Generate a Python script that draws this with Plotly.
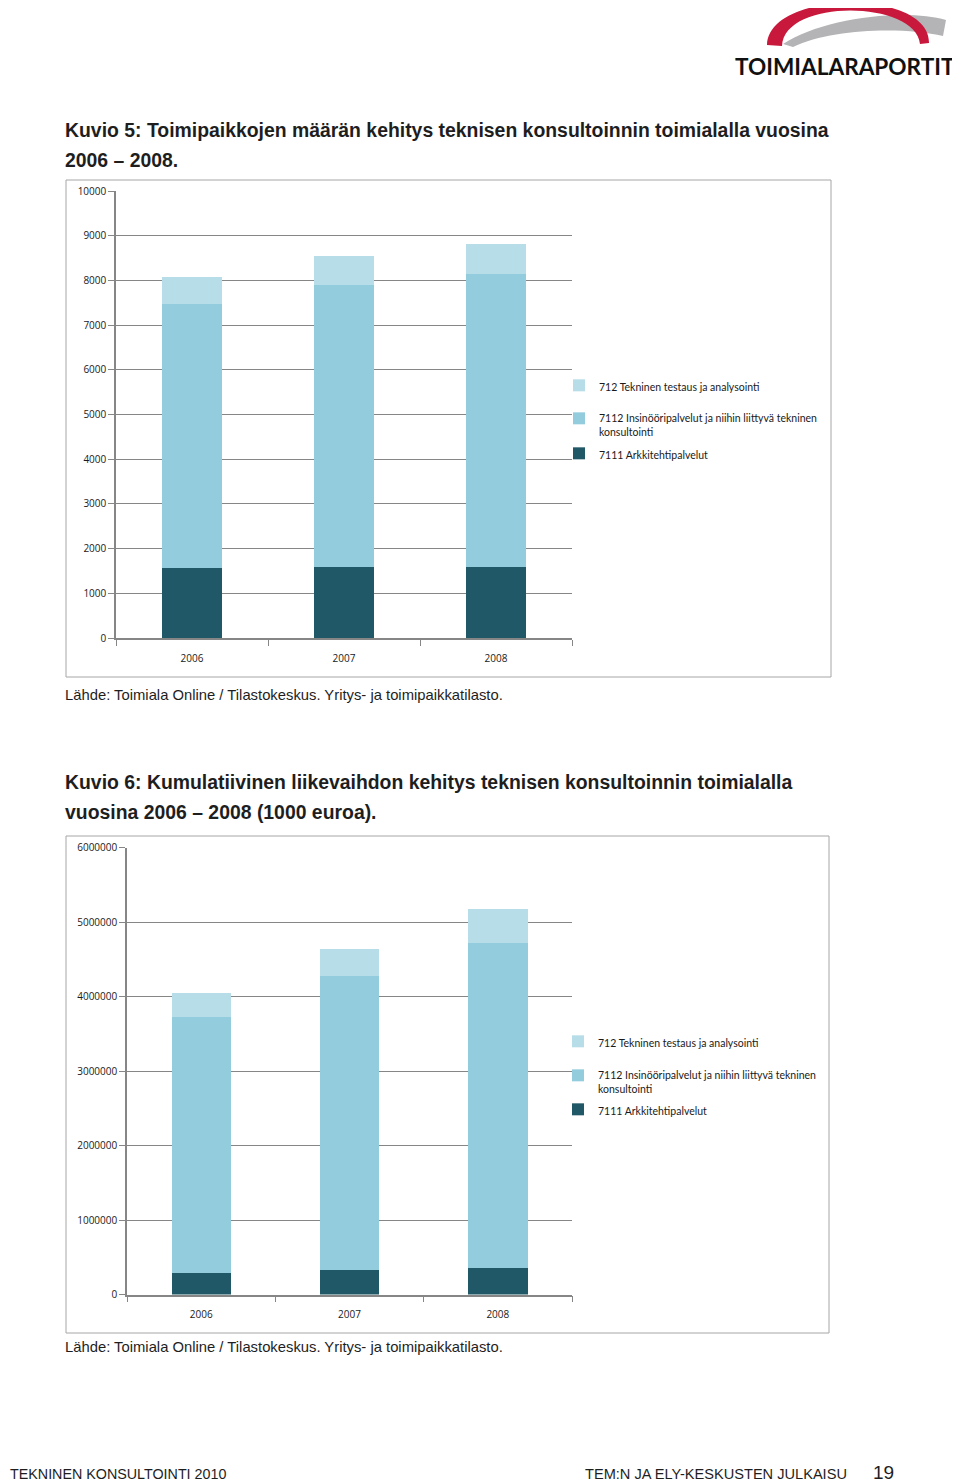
import plotly.graph_objects as go

# page offset of the plot div inside the browser page (body margin)
OFF = 8
W, H = 960 - OFF, 1483 - OFF

# ---------------- data ----------------
years = ["2006", "2007", "2008"]
series_names = [
    "7111 Arkkitehtipalvelut",
    "7112 Insinööripalvelut ja niihin liittyvä tekninen<br>konsultointi",
    "712 Tekninen testaus ja analysointi",
]
# Kuvio 5: toimipaikkojen määrä
est_7111 = [1566, 1595, 1595]
est_7112 = [5906, 6295, 6548]
est_712 = [595, 656, 671]
# Kuvio 6: liikevaihto (1000 euroa)
rev_7111 = [290000, 330000, 353000]
rev_7112 = [3430000, 3950000, 4367000]
rev_712 = [324000, 360000, 450000]

y1_ticks = [0, 1000, 2000, 3000, 4000, 5000, 6000, 7000, 8000, 9000, 10000]
y2_ticks = [0, 1000000, 2000000, 3000000, 4000000, 5000000, 6000000]

colors = ["#215867", "#93cddd", "#b7dde8"]


def fx(px):
    return (px - OFF) / W


def fy(py):
    return 1 - (py - OFF) / H


def ppath(points_cmds):
    out = []
    for tok in points_cmds:
        if isinstance(tok, str):
            out.append(tok)
        else:
            x, y = tok
            out.append(f"{fx(x):.5f},{fy(y):.5f}")
    return " ".join(out)


fig = go.Figure()

GRID = "#868686"
TICKFONT = dict(family="Open Sans, Lato, sans-serif", size=10, color="#1a1a1a")
LEGFONT = dict(family="Lato, Open Sans, sans-serif", size=10.5, color="#1a1a1a")

# legend positions (pixel top y of each entry) per chart
leg1_y = [440, 405, 372]
leg2_y = [1096, 1062, 1028]

for i in range(3):
    vals1 = [est_7111, est_7112, est_712][i]
    vals2 = [rev_7111, rev_7112, rev_712][i]
    fig.add_trace(go.Bar(
        x=years, y=vals1, name=series_names[i], marker_color=colors[i],
        marker_line_width=0, width=0.4, xaxis="x", yaxis="y",
        legend="legend" if i == 0 else f"legend{i+1}",
    ))
    fig.add_trace(go.Bar(
        x=years, y=vals2, name=series_names[i], marker_color=colors[i],
        marker_line_width=0, width=0.4, xaxis="x2", yaxis="y2",
        legend=f"legend{i+4}",
    ))

axis_common = dict(
    showline=True, linecolor=GRID, linewidth=1.5,
    ticks="outside", tickcolor=GRID, tickwidth=1.2, ticklen=6,
    tickfont=TICKFONT, zeroline=False,
)

fig.update_layout(
    width=W, height=H,
    margin=dict(l=0, r=0, t=0, b=0, autoexpand=False),
    paper_bgcolor="white", plot_bgcolor="white",
    barmode="stack", bargap=0.6,
    xaxis=dict(domain=[fx(116), fx(572)], type="category", tickson="boundaries",
               anchor="y", showgrid=False, ticklabelstandoff=10, **axis_common),
    yaxis=dict(domain=[fy(638), fy(191)], range=[0, 10000], tickvals=y1_ticks,
               ticktext=[str(v) for v in y1_ticks], anchor="x",
               showgrid=True, gridcolor=GRID, gridwidth=1.2, **axis_common),
    xaxis2=dict(domain=[fx(127), fx(572)], type="category", tickson="boundaries",
                anchor="y2", showgrid=False, ticklabelstandoff=10, **axis_common),
    yaxis2=dict(domain=[fy(1294.5), fy(847.5)], range=[0, 6000000], tickvals=y2_ticks,
                ticktext=[str(v) for v in y2_ticks], anchor="x2",
                showgrid=True, gridcolor=GRID, gridwidth=1.2, **axis_common),
    showlegend=True,
)

leg_common = dict(xanchor="left", yanchor="top", bgcolor="rgba(0,0,0,0)",
                  font=LEGFONT, itemwidth=30, valign="top",
                  itemclick=False, itemdoubleclick=False)
layout_legs = {}
for i in range(3):
    key = "legend" if i == 0 else f"legend{i+1}"
    layout_legs[key] = dict(x=fx(559), y=fy(leg1_y[i]), **leg_common)
    layout_legs[f"legend{i+4}"] = dict(x=fx(558), y=fy(leg2_y[i]), **leg_common)
fig.update_layout(**layout_legs)

# chart frames
for (x0, y0, x1, y1) in [(66, 180, 831, 677), (66, 836, 829, 1333)]:
    fig.add_shape(type="rect", xref="paper", yref="paper",
                  x0=fx(x0), x1=fx(x1), y0=fy(y1), y1=fy(y0),
                  line=dict(color="#a6a6a6", width=1), fillcolor="rgba(0,0,0,0)",
                  layer="below")

# logo arcs
red_arc = ppath(["M", (767, 45), "C", (768, -10), (930, -12), (929, 43),
                 "L", (920, 44), "C", (916, 0), (784, -2), (782, 46), "Z"])
grey_arc = ppath(["M", (783, 44), "C", (822, 18), (905, 8), (946, 20),
                  "L", (943, 36), "C", (905, 27), (832, 28), (793, 47), "Z"])
fig.add_shape(type="path", xref="paper", yref="paper", path=grey_arc,
              fillcolor="#b4b4b6", line=dict(width=0))
fig.add_shape(type="path", xref="paper", yref="paper", path=red_arc,
              fillcolor="#c8183c", line=dict(width=0))

TITLE_FONT = dict(family="Liberation Sans, Arial, sans-serif", size=19.4, color="#1e1e1e")
SRC_FONT = dict(family="Liberation Sans, Arial, sans-serif", size=14.8, color="#1e1e1e")
FOOT_FONT = dict(family="Liberation Sans, Arial, sans-serif", size=14.3, color="#1e1e1e")


def txt(x, y, text, font, xanchor="left"):
    fig.add_annotation(xref="paper", yref="paper", x=fx(x), y=fy(y), text=text,
                       showarrow=False, xanchor=xanchor, yanchor="middle",
                       font=font, align="left")


txt(733, 66, "<b>TOIMIALARAPORTIT</b>",
    dict(family="Lato, sans-serif", size=22.6, color="#111111"))
txt(63, 130, "<b>Kuvio 5: Toimipaikkojen määrän kehitys teknisen konsultoinnin toimialalla vuosina</b>", TITLE_FONT)
txt(63, 160, "<b>2006 – 2008.</b>", TITLE_FONT)
txt(63, 695, "Lähde: Toimiala Online / Tilastokeskus. Yritys- ja toimipaikkatilasto.", SRC_FONT)
txt(63, 782, "<b>Kuvio 6: Kumulatiivinen liikevaihdon kehitys teknisen konsultoinnin toimialalla</b>", TITLE_FONT)
txt(63, 812, "<b>vuosina 2006 – 2008 (1000 euroa).</b>", TITLE_FONT)
txt(63, 1347, "Lähde: Toimiala Online / Tilastokeskus. Yritys- ja toimipaikkatilasto.", SRC_FONT)
txt(8, 1474, "TEKNINEN KONSULTOINTI 2010", FOOT_FONT)
txt(583, 1474, "TEM:N JA ELY-KESKUSTEN JULKAISU", dict(family="Liberation Sans, Arial, sans-serif", size=14.6, color="#1e1e1e"))
txt(871, 1472, "19", dict(family="Liberation Sans, Arial, sans-serif", size=19, color="#1e1e1e"))

fig.write_html("out.html")
